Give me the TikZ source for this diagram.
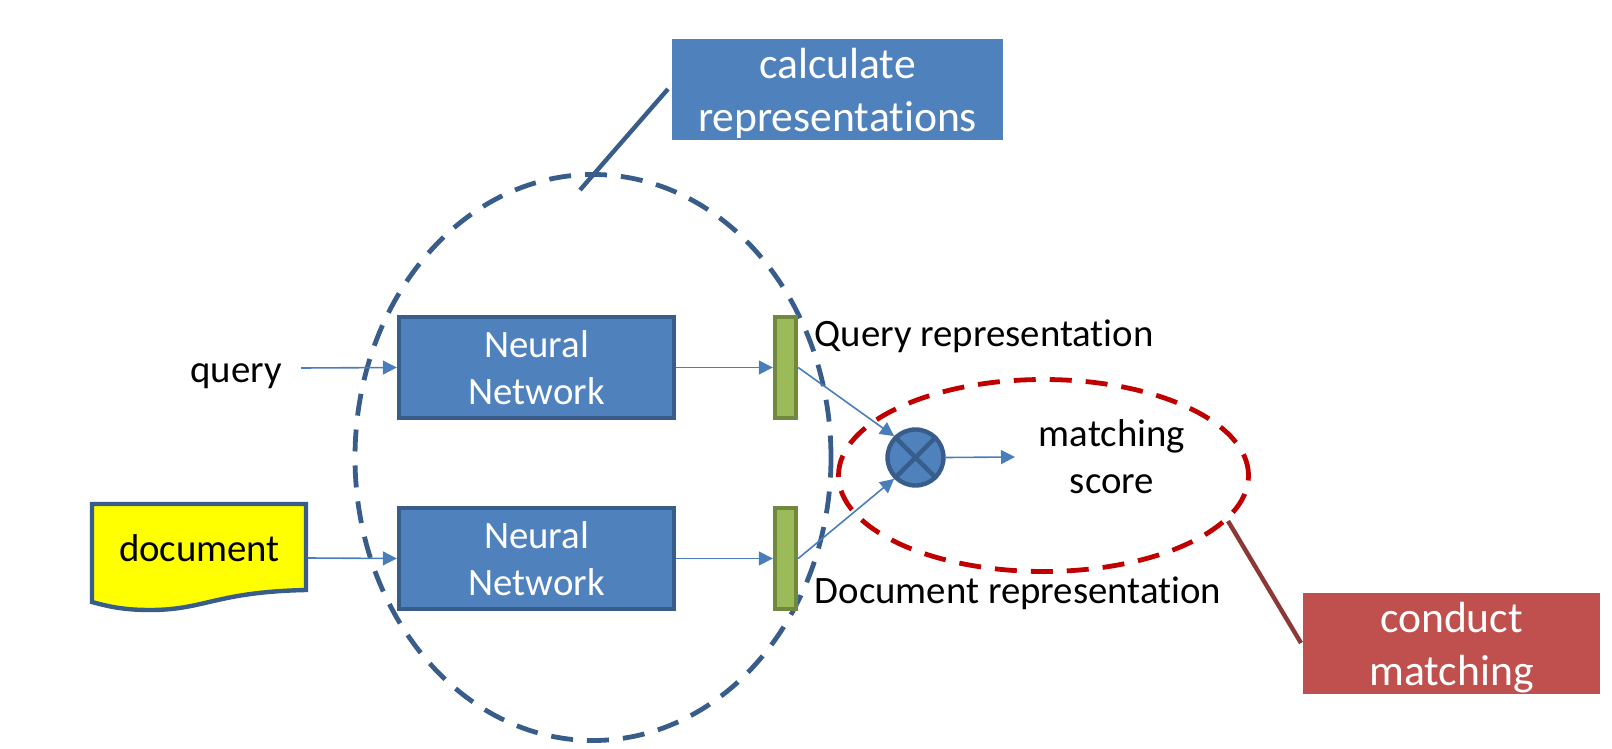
\documentclass[tikz,border=0pt]{standalone}
\usepackage{fontspec}
\setmainfont[Ligatures=NoCommon]{Carlito}
\usetikzlibrary{shapes.geometric,arrows.meta}
\definecolor{netblue}{HTML}{4F81BD}
\definecolor{netedge}{HTML}{385D8A}
\definecolor{barfill}{HTML}{9BBB59}
\definecolor{baredge}{HTML}{71893F}
\definecolor{matchred}{HTML}{C0504D}
\definecolor{matchedge}{HTML}{8C3836}
\definecolor{docfill}{HTML}{FFFF00}
\definecolor{dashred}{HTML}{C00000}
\definecolor{feedblue}{HTML}{4A7EBB}
\newcommand{\tagstrut}{\rule{0pt}{19.5pt}}
\newcommand{\netstrut}{\rule{0pt}{13.5pt}}
\tikzset{
  netbox/.style={draw=netedge,fill=netblue,line width=2.2pt,minimum width=137.5pt,minimum height=50.5pt,text=white,align=center,inner sep=0pt,font=\fontsize{19.4}{23.5}\selectfont},
  repbar/.style={draw=baredge,fill=barfill,line width=2.2pt,minimum width=10.5pt,minimum height=50.5pt,inner sep=0pt},
  tag/.style={minimum height=50.5pt,text=white,align=center,inner sep=0pt,font=\fontsize{21.8}{26.5}\selectfont},
  label/.style={anchor=base,font=\fontsize{19.4}{23.5}\selectfont},
  group/.style={ellipse,line width=2.4pt,dash pattern=on 11pt off 7pt,inner sep=0pt},
  feed/.style={draw=feedblue,line width=.8pt,-{Triangle[length=7pt,width=7pt]}}
}
\begin{document}
\begin{tikzpicture}[x=0.5pt,y=-0.5pt]
  \useasboundingbox (0,0) rectangle (1612,749);
  \node[group,draw=netedge,minimum width=238pt,minimum height=283pt] (outer) at (593,457.5) {};
  \node[group,draw=dashred,minimum width=205pt,minimum height=96pt] (inner) at (1043.5,475.5) {};
  \node[netbox] (net1) at (536.5,367.5) {\netstrut Neural\\Network};
  \node[netbox] (net2) at (536.5,558.5) {\netstrut Neural\\Network};
  \node[repbar] (bar1) at (785.5,367.5) {};
  \node[repbar] (bar2) at (785.5,558.5) {};
  \draw[netedge,line width=2.2pt,fill=docfill] (92,504)--(306,504)--(306,590)
    .. controls (215,592) and (205,610) .. (150,610) .. controls (125,610) and (110,607) .. (92,602) -- cycle;
  \node[label] (doc) at (199.5,561) {document};
  \node[label] (query) at (236,382) {query};
  \coordinate (queryout) at (301,368);
  \coordinate (docout) at (308,558);
  \draw[feed] (queryout)--(net1.west);
  \draw[feed] (docout)--(net2.west);
  \draw[feed] (net1.east)--(bar1.west);
  \draw[feed] (net2.east)--(bar2.west);
  \node[circle,draw=netedge,fill=netblue,line width=2.2pt,minimum size=28pt,inner sep=0pt] (mult) at (915.5,457.5) {};
  \draw[netedge,line width=2.2pt] (mult.north west)--(mult.south east);
  \draw[netedge,line width=2.2pt] (mult.north east)--(mult.south west);
  \draw[feed] (bar1.east)--(mult.north west);
  \draw[feed] (bar2.east)--(mult.south west);
  \node[align=center,font=\fontsize{19.4}{23.5}\selectfont] (score) at (1112,457) {matching\\score};
  \coordinate (scorein) at (1015,457);
  \draw[feed] (mult.east)--(scorein);
  \node[label] (qrep) at (984,346) {Query representation};
  \node[label] (drep) at (1018,603) {Document representation};
  \node[tag,fill=netblue,minimum width=165.5pt] (calc) at (837.5,89.5) {\tagstrut calculate\\representations};
  \node[tag,fill=matchred,minimum width=148.5pt] (cond) at (1451.5,643.5) {\tagstrut conduct\\matching};
  \coordinate (calctip) at (668,89);
  \coordinate (outertip) at (580,190);
  \coordinate (condtip) at (1301,643);
  \coordinate (innertip) at (1228,521);
  \draw[netedge,line width=2.2pt] (calctip)--(outertip);
  \draw[matchedge,line width=2.2pt] (condtip)--(innertip);
\end{tikzpicture}
\end{document}
